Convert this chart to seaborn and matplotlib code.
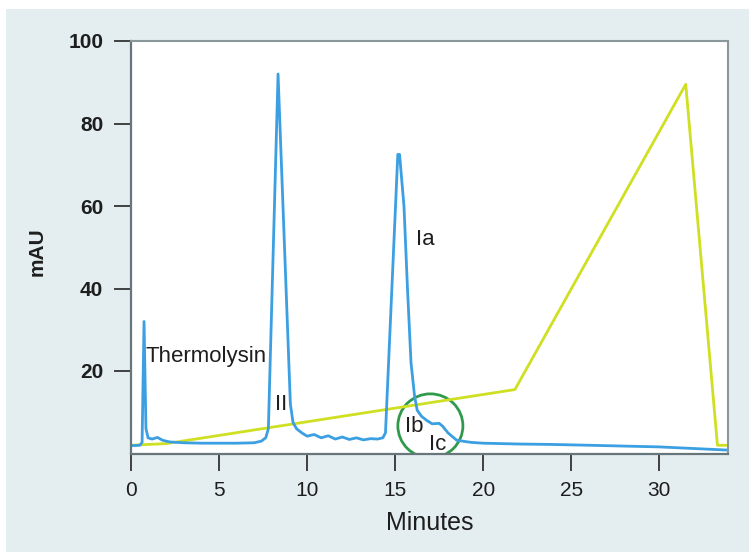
import numpy as np
import pandas as pd
import matplotlib.pyplot as plt
import seaborn as sns
from matplotlib.patches import Ellipse, Rectangle

# chromatogram trace (minutes, mAU)
trace_min = [0.0, 0.5, 0.63, 0.74, 0.85, 0.97, 1.2, 1.5, 1.8, 2.2, 3.0, 4.0, 5.0,
             6.0, 7.0, 7.4, 7.65, 7.8, 8.35, 9.05, 9.2, 9.4, 9.7, 10.0, 10.4, 10.8,
             11.2, 11.6, 12.0, 12.4, 12.8, 13.2, 13.6, 14.0, 14.3, 14.45, 15.15, 15.25,
             15.5, 15.7, 15.9, 16.1, 16.25, 16.5, 16.8, 17.1, 17.5, 17.7, 18.0,
             18.5, 19.3, 20.0, 22.0, 23.8, 26.0, 28.0, 30.0, 32.0, 34.0]
trace_mau = [1.9, 2.0, 2.7, 32.0, 6.0, 3.8, 3.5, 3.9, 3.2, 2.8, 2.6, 2.5, 2.5,
             2.5, 2.6, 3.0, 3.8, 6.0, 92.0, 12.0, 7.5, 6.0, 5.0, 4.2, 4.6, 3.8,
             4.3, 3.5, 4.0, 3.4, 3.8, 3.3, 3.6, 3.5, 3.8, 5.0, 72.5, 72.5,
             60.0, 40.0, 22.0, 14.0, 10.5, 9.0, 8.0, 7.2, 7.3, 6.6, 5.0,
             3.2, 2.7, 2.5, 2.3, 2.2, 2.0, 1.8, 1.6, 1.2, 0.8]

# gradient profile
grad_min = [0.0, 2.0, 21.8, 31.5, 33.3, 34.0]
grad_val = [2.0, 2.4, 15.5, 89.5, 2.0, 2.0]

peak_labels = ["Thermolysin", "II", "Ia", "Ib", "Ic"]
label_x = [0.8, 8.15, 16.2, 15.55, 16.9]
label_y = [22.2, 10.6, 50.5, 5.2, 0.9]

y_ticks = [20, 40, 60, 80, 100]
x_ticks = [0, 5, 10, 15, 20, 25, 30]

sns.set_style("white")
plt.rcParams['font.family'] = ['Liberation Sans', 'DejaVu Sans']

fig = plt.figure(figsize=(7.49, 5.52), dpi=100, facecolor="white")
fig.patches.append(Rectangle((6 / 749, 0), 1, 1 - 9 / 552, transform=fig.transFigure,
                             facecolor="#e4eef1", edgecolor="none", zorder=-10))
ax = fig.add_axes([131 / 749, 1 - 453.5 / 552, (728 - 131) / 749, (453.5 - 41) / 552])
ax.set_facecolor("white")

trace = pd.DataFrame({"Minutes": trace_min, "mAU": trace_mau})
grad = pd.DataFrame({"Minutes": grad_min, "mAU": grad_val})
sns.lineplot(data=grad, x="Minutes", y="mAU", ax=ax, color="#cfe022", linewidth=2)
sns.lineplot(data=trace, x="Minutes", y="mAU", ax=ax, color="#3b9fe2", linewidth=2)

ax.add_patch(Ellipse((17.0, 6.7), 65 / 17.6, 64 / 4.125, fill=False,
                     edgecolor="#2f9a4c", linewidth=2))

for txt, lx, ly in zip(peak_labels, label_x, label_y):
    ax.text(lx, ly, txt, fontsize=16, color="#1e1e1e", va="baseline", ha="left")

ax.set_xlim(0, 33.9)
ax.set_ylim(0, 100)
ax.set_xticks(x_ticks)
ax.set_yticks(y_ticks)
ax.tick_params(axis="both", bottom=True, left=True, direction="out",
               length=12, width=1.3, color="#333333", labelcolor="#1e1e1e")
ax.tick_params(axis="x", labelsize=15, pad=8)
ax.tick_params(axis="y", labelsize=15, pad=8)
for lab in ax.get_yticklabels():
    lab.set_fontweight("bold")
for side in ["left", "bottom"]:
    ax.spines[side].set_color("#66767b")
    ax.spines[side].set_linewidth(1.6)
for side in ["top", "right"]:
    ax.spines[side].set_color("#8a989c")
    ax.spines[side].set_linewidth(1.5)

ax.set_xlabel("Minutes", fontsize=18, color="#1e1e1e")
ax.set_ylabel("mAU", fontsize=15, fontweight="bold", color="#1e1e1e")
ax.xaxis.set_label_coords(0.5, -0.14)
ax.yaxis.set_label_coords(-0.142, 0.49)

fig.savefig("out.png", dpi=100)
